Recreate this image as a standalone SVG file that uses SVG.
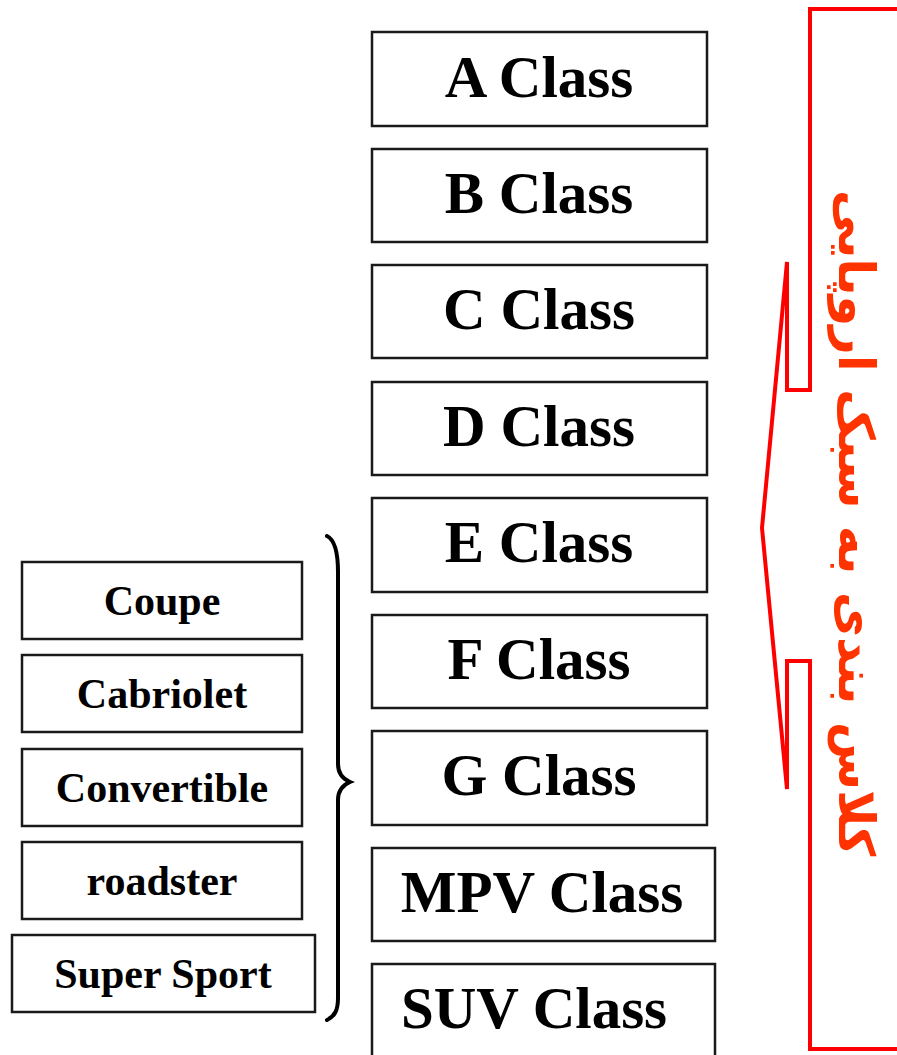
<svg xmlns="http://www.w3.org/2000/svg" width="897" height="1055" viewBox="0 0 897 1055">
<style>
.box{fill:#fff;stroke:#1a1a1a;stroke-width:2.5}
.big{font-family:"Liberation Serif",serif;font-weight:bold;font-size:59px;fill:#000;text-anchor:middle}
.small{font-family:"Liberation Serif",serif;font-weight:bold;font-size:42px;fill:#000;text-anchor:middle}
.fa{font-family:"DejaVu Sans",sans-serif;font-weight:bold;font-size:49.5px;fill:#FF3300;text-anchor:middle}
</style>
<rect width="897" height="1055" fill="#fff"/>
<g id="connectors">
<path d="M327,536 C335,540 338,552 338,572 L338,764 C338,774 343,779 350,782 C343,785 338,790 338,800 L338,998 C338,1010 335,1016 327,1020" fill="none" stroke="#000" stroke-width="4" stroke-linecap="round"/>
<polyline points="897,9 810,9 810,390 787,390 787,262 762,528 787,789 787,661 810,661 810,1049 897,1049" fill="none" stroke="#FF0000" stroke-width="4"/>
</g>
<g id="nodeA"><rect class="box" x="372" y="32" width="335" height="94"/><text class="big" x="539" y="97">A Class</text></g>
<g id="nodeB"><rect class="box" x="372" y="149" width="335" height="93"/><text class="big" x="539" y="213">B Class</text></g>
<g id="nodeC"><rect class="box" x="372" y="265" width="335" height="93"/><text class="big" x="539" y="329">C Class</text></g>
<g id="nodeD"><rect class="box" x="372" y="382" width="335" height="93"/><text class="big" x="539" y="446">D Class</text></g>
<g id="nodeE"><rect class="box" x="372" y="498" width="335" height="94"/><text class="big" x="539" y="562">E Class</text></g>
<g id="nodeF"><rect class="box" x="372" y="615" width="335" height="93"/><text class="big" x="539" y="679">F Class</text></g>
<g id="nodeG"><rect class="box" x="372" y="731" width="335" height="94"/><text class="big" x="539" y="795">G Class</text></g>
<g id="nodeMPV"><rect class="box" x="372" y="848" width="343" height="93"/><text class="big" x="542" y="912">MPV Class</text></g>
<g id="nodeSUV"><rect class="box" x="372" y="964" width="343" height="100"/><text class="big" x="534" y="1028">SUV Class</text></g>
<g id="nodeCoupe"><rect class="box" x="22" y="562" width="280" height="77"/><text class="small" x="162" y="615">Coupe</text></g>
<g id="nodeCabriolet"><rect class="box" x="22" y="655" width="280" height="77"/><text class="small" x="162" y="708">Cabriolet</text></g>
<g id="nodeConvertible"><rect class="box" x="22" y="749" width="280" height="77"/><text class="small" x="162" y="802">Convertible</text></g>
<g id="nodeRoadster"><rect class="box" x="22" y="842" width="280" height="77"/><text class="small" x="162" y="895">roadster</text></g>
<g id="nodeSuperSport"><rect class="box" x="12" y="935" width="303" height="77"/><text class="small" x="163" y="988">Super Sport</text></g>
<g id="label"><text class="fa" transform="translate(839,523) rotate(90)" x="0" y="0">کلاس بندی به سبک اروپایی</text></g>
</svg>
